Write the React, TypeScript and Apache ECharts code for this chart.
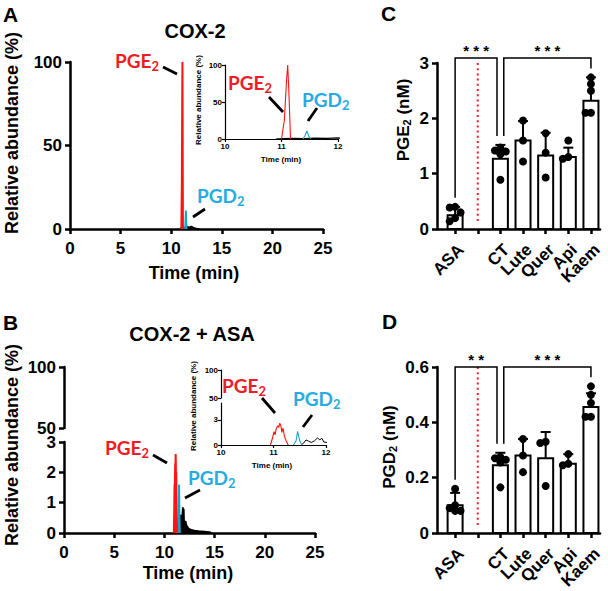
import { useEffect, useRef } from "react";
import * as echarts from "echarts";

const AXIS_FONT = "'Liberation Sans', Arial, Helvetica, sans-serif";
const TAG_FONT = "Lato, 'Open Sans', sans-serif";
const RED = "#ee1c25";
const CYAN = "#29abe2";
const RED_TRACE = "#ff1414";
const CYAN_TRACE = "#1ba3c6";

// Extracted-ion traces, [retention time (min), relative abundance (%)]
const cox2Pge2 = [[11.0, 0], [11.05, 25], [11.09, 80], [11.11, 100], [11.13, 65], [11.16, 0]];
const cox2Pgd2 = [[11.38, 0], [11.42, 5], [11.45, 11], [11.48, 4], [11.52, 0]];
const cox2Other = [[10.9, 0], [11.0, 0.6], [11.2, 0.9], [11.4, 0.5], [11.6, 1.2], [11.8, 0.8], [12.0, 1.4], [12.2, 0.6], [12.5, 0.2], [12.8, 0]];

const asaPge2 = [[10.94, 0], [10.98, 0.8], [11.01, 1.6], [11.03, 1.2], [11.05, 1.9], [11.08, 2.3], [11.1, 2.1], [11.12, 2.6], [11.14, 2.3], [11.16, 1.5], [11.18, 2.0], [11.21, 1.0], [11.24, 0.5], [11.28, 0]];
const asaPgd2 = [[11.38, 0], [11.43, 0.5], [11.46, 1.6], [11.5, 0.5], [11.54, 0]];
const asaOther = [[11.52, 0], [11.57, 0.2], [11.62, 0.6], [11.67, 0.45], [11.72, 0.3], [11.78, 0.5], [11.84, 0.85], [11.88, 0.6], [11.92, 0.8], [11.96, 0.35], [12.02, 0.3], [12.1, 0.4], [12.2, 0.25], [12.4, 0.15], [12.7, 0.1], [13.0, 0.08], [13.4, 0.06], [13.8, 0.05], [14.2, 0.04], [14.5, 0.03], [14.7, 0]];

// Quantification (nM); index 1 is the empty slot holding the divider
const groups = ["ASA", "", "CT", "Lute", "Quer", "Api", "Kaem"];
const pge2Mean = [0.25, null, 1.27, 1.6, 1.33, 1.3, 2.32];
const pge2Sd = [0.15, null, 0.25, 0.35, 0.41, 0.17, 0.42];
const pge2Points = [
  [0.4, 0.39, 0.3, 0.2, 0.14],
  [],
  [1.47, 1.42, 1.4, 1.35, 0.89],
  [1.96, 1.6, 1.22],
  [1.73, 1.38, 0.93],
  [1.6, 1.3, 1.27],
  [2.74, 2.62, 2.5, 2.1, 2.1],
];
const pgd2Mean = [0.1, null, 0.245, 0.28, 0.27, 0.25, 0.455];
const pgd2Sd = [0.045, null, 0.045, 0.06, 0.095, 0.035, 0.05];
const pgd2Points = [
  [0.16, 0.1, 0.09, 0.08, 0.08],
  [],
  [0.275, 0.27, 0.265, 0.255, 0.165],
  [0.34, 0.28, 0.22],
  [0.33, 0.325, 0.17],
  [0.285, 0.25, 0.245],
  [0.53, 0.5, 0.47, 0.42, 0.42],
];
// Significance brackets: compared groups and stars
const pge2Sig = [
  { a: 0, b: 2, stars: "* * *" },
  { a: 2, b: 6, stars: "* * *" },
];
const pgd2Sig = [
  { a: 0, b: 2, stars: "* *" },
  { a: 2, b: 6, stars: "* * *" },
];
const CONTROL = 2;

const black = "#000";

const mainAxisLine = { show: true, onZero: false, lineStyle: { color: black, width: 2.5 } };
const mainTick = { show: true, length: 5, lineStyle: { color: black, width: 2.5 } };
const mainLabel = { color: black, fontSize: 17, fontWeight: "bold", fontFamily: AXIS_FONT };
const insetAxisLine = { show: true, onZero: false, lineStyle: { color: black, width: 1.2 } };
const insetTick = { show: true, length: 3, lineStyle: { color: black, width: 1.2 } };
const insetLabel = { color: black, fontSize: 8, fontWeight: "bold", fontFamily: AXIS_FONT, margin: 3 };

function spreadDots(values: number[], yMax: number, plotH: number, unitPx: number) {
  const placed: number[][] = [];
  const offs = [0, -0.24, 0.24, -0.12, 0.12];
  return values.map((v) => {
    let best = 0;
    let bestD = -1;
    for (const o of offs) {
      let d = Infinity;
      for (const [po, pv] of placed) {
        d = Math.min(d, Math.hypot((o - po) * unitPx, ((v - pv) / yMax) * plotH));
      }
      if (d >= 6.5) {
        best = o;
        break;
      }
      if (d > bestD) {
        bestD = d;
        best = o;
      }
    }
    placed.push([best, v]);
    return best;
  });
}

function traceSeries(data: number[][], color: string, xi: number, yi: number, width: number, fill: boolean) {
  return {
    type: "line",
    xAxisIndex: xi,
    yAxisIndex: yi,
    data,
    showSymbol: false,
    symbol: "none",
    lineStyle: { color, width },
    areaStyle: fill ? { color, opacity: 1 } : undefined,
    silent: true,
  };
}

function quantSeries(idx: number, mean: (number | null)[], sd: (number | null)[], points: number[][], sig: any[], yMax: number, level: number) {
  const tops = mean.map((m, i) => Math.max(m == null ? 0 : m + (sd[i] || 0), ...(points[i].length ? points[i] : [0])));
  const barData = mean.map((m, i) => (m == null ? null : [i, m, sd[i]])).filter(Boolean);
  const dots: number[][] = [];
  points.forEach((vals, i) => {
    const offs = spreadDots(vals, yMax, 166, 22.6);
    vals.forEach((v, k) => dots.push([i + offs[k], v]));
  });
  const bracketData = sig.map((s) => [
    s.a + (s.a === CONTROL ? 0.15 : 0),
    s.b - (s.b === CONTROL ? 0.15 : 0),
    level,
    tops[s.a],
    tops[s.b],
  ]);
  return [
    {
      type: "custom",
      xAxisIndex: idx,
      yAxisIndex: idx,
      data: [[1]],
      silent: true,
      renderItem: (_p: any, api: any) => {
        const top = api.coord([api.value(0), yMax]);
        const bot = api.coord([api.value(0), 0]);
        return {
          type: "line",
          shape: { x1: top[0], y1: top[1], x2: bot[0], y2: bot[1] - 6 },
          style: { stroke: "#e5202a", lineWidth: 2, lineDash: [2, 3.2] },
        };
      },
    },
    {
      type: "custom",
      xAxisIndex: idx,
      yAxisIndex: idx,
      data: barData,
      silent: true,
      z: 3,
      renderItem: (_p: any, api: any) => {
        const x = api.value(0);
        const m = api.value(1);
        const s = api.value(2);
        const p0 = api.coord([x, 0]);
        const pm = api.coord([x, m]);
        const ps = api.coord([x, m + s]);
        return {
          type: "group",
          children: [
            { type: "line", shape: { x1: pm[0], y1: pm[1], x2: ps[0], y2: ps[1] }, style: { stroke: black, lineWidth: 2 } },
            { type: "line", shape: { x1: ps[0] - 5, y1: ps[1], x2: ps[0] + 5, y2: ps[1] }, style: { stroke: black, lineWidth: 2 } },
            { type: "rect", shape: { x: p0[0] - 7.5, y: pm[1], width: 15, height: p0[1] - pm[1] }, style: { fill: "#fff", stroke: black, lineWidth: 2 } },
          ],
        };
      },
    },
    {
      type: "scatter",
      xAxisIndex: idx,
      yAxisIndex: idx,
      data: dots,
      symbolSize: 8,
      itemStyle: { color: black, opacity: 1 },
      silent: true,
      z: 5,
    },
    {
      type: "custom",
      xAxisIndex: idx,
      yAxisIndex: idx,
      data: bracketData,
      silent: true,
      z: 6,
      renderItem: (p: any, api: any) => {
        const pa = api.coord([api.value(0), api.value(2)]);
        const pb = api.coord([api.value(1), api.value(2)]);
        const ya = api.coord([api.value(0), api.value(3)])[1] - 9;
        const yb = api.coord([api.value(1), api.value(4)])[1] - 9;
        return {
          type: "group",
          children: [
            {
              type: "polyline",
              shape: { points: [[pa[0], ya], [pa[0], pa[1]], [pb[0], pb[1]], [pb[0], yb]] },
              style: { stroke: black, lineWidth: 1.5, fill: null },
            },
            {
              type: "text",
              x: (pa[0] + pb[0]) / 2,
              y: pa[1] - 8,
              style: { text: sig[p.dataIndex].stars, fill: black, fontSize: 15, fontWeight: "bold", fontFamily: AXIS_FONT, align: "center", verticalAlign: "middle" },
            },
          ],
        };
      },
    },
  ];
}

function plainText(text: string, x: number, y: number, size: number, opts: any = {}) {
  return {
    type: "text",
    x,
    y,
    rotation: opts.rotation || 0,
    silent: true,
    style: {
      text,
      fill: opts.color || black,
      fontSize: size,
      fontWeight: "bold",
      fontFamily: opts.font || AXIS_FONT,
      align: opts.align || "center",
      verticalAlign: "middle",
    },
  };
}

function subText(base: string, rest: string, x: number, y: number, size: number, subSize: number, drop: number, color: string, font: string, opts: any = {}) {
  return {
    type: "text",
    x,
    y,
    rotation: opts.rotation || 0,
    silent: true,
    style: {
      text: `{m|${base}}{s|2}` + (rest ? `{m|${rest}}` : ""),
      align: opts.align || "left",
      verticalAlign: "middle",
      rich: {
        m: { fontSize: size, lineHeight: size + 2, fontWeight: "bold", fontFamily: font, fill: color },
        s: { fontSize: subSize, lineHeight: subSize, padding: [drop, 0, 0, 0], fontWeight: "bold", fontFamily: font, fill: color },
      },
    },
  };
}

function leader(x1: number, y1: number, x2: number, y2: number) {
  return { type: "line", silent: true, shape: { x1, y1, x2, y2 }, style: { stroke: black, lineWidth: 2.8 } };
}

function buildGraphic() {
  return [
    plainText("A", 3, 14, 21, { align: "left" }),
    plainText("B", 3, 322, 21, { align: "left" }),
    plainText("C", 381, 13, 21, { align: "left" }),
    plainText("D", 382, 321, 21, { align: "left" }),
    plainText("COX-2", 195, 31, 20),
    plainText("COX-2 + ASA", 192, 334, 20),
    plainText("Relative abundance (%)", 12, 133, 18, { rotation: Math.PI / 2 }),
    plainText("Relative abundance (%)", 12, 445, 18, { rotation: Math.PI / 2 }),
    plainText("Relative abundance (%)", 198, 100, 8, { rotation: Math.PI / 2 }),
    plainText("Relative abundance (%)", 193, 406, 8, { rotation: Math.PI / 2 }),
    plainText("Time (min)", 194, 273, 18),
    plainText("Time (min)", 188, 573, 18),
    plainText("Time (min)", 281, 159, 8),
    plainText("Time (min)", 272, 465, 8),
    subText("PGE", " (nM)", 403, 120, 17, 11, 7, black, AXIS_FONT, { rotation: Math.PI / 2, align: "center" }),
    subText("PGD", " (nM)", 389, 447, 17, 11, 7, black, AXIS_FONT, { rotation: Math.PI / 2, align: "center" }),
    // peak tags with leader lines
    subText("PGE", "", 115, 60, 19, 13, 12, RED, TAG_FONT),
    leader(163, 67, 177, 74),
    subText("PGD", "", 197, 195, 19, 13, 12, CYAN, TAG_FONT),
    leader(193, 217, 205, 209),
    subText("PGE", "", 228, 82, 19, 13, 12, RED, TAG_FONT),
    leader(269, 97, 283, 112),
    subText("PGD", "", 302, 99, 19, 13, 12, CYAN, TAG_FONT),
    leader(317, 108, 308, 121),
    subText("PGE", "", 105, 447, 19, 13, 12, RED, TAG_FONT),
    leader(153, 455, 167, 463),
    subText("PGD", "", 188, 477, 19, 13, 12, CYAN, TAG_FONT),
    leader(185, 498, 200, 490),
    subText("PGE", "", 222, 385, 19, 13, 12, RED, TAG_FONT),
    leader(262, 398, 275, 413),
    subText("PGD", "", 293, 398, 19, 13, 12, CYAN, TAG_FONT),
    leader(312, 415, 303, 427),
  ];
}

function buildOption() {
  const grids = [
    { left: 70, top: 62, width: 253, height: 167 },
    { left: 225, top: 65, width: 113, height: 74 },
    { left: 64, top: 367, width: 251, height: 61 },
    { left: 64, top: 442, width: 251, height: 91 },
    { left: 221, top: 370, width: 105, height: 28 },
    { left: 221, top: 403, width: 105, height: 42 },
    { left: 437, top: 63, width: 163, height: 166 },
    { left: 437, top: 367, width: 163, height: 166 },
  ];

  const tickIdx = groups.map((_g, i) => i);
  const groupAxis = (gi: number) => ({
    type: "value",
    gridIndex: gi,
    min: -0.8,
    max: 6.4,
    axisLine: mainAxisLine,
    axisTick: { ...mainTick, customValues: tickIdx },
    axisLabel: { show: false },
    splitLine: { show: false },
  });

  const xAxis = [
    { type: "value", gridIndex: 0, min: 0, max: 25, interval: 5, axisLine: mainAxisLine, axisTick: mainTick, axisLabel: { ...mainLabel, margin: 11 }, splitLine: { show: false } },
    { type: "value", gridIndex: 1, min: 10, max: 12, interval: 1, axisLine: insetAxisLine, axisTick: insetTick, axisLabel: insetLabel, splitLine: { show: false } },
    { type: "value", gridIndex: 2, min: 0, max: 25, show: false },
    { type: "value", gridIndex: 3, min: 0, max: 25, interval: 5, axisLine: mainAxisLine, axisTick: mainTick, axisLabel: { ...mainLabel, margin: 11 }, splitLine: { show: false } },
    { type: "value", gridIndex: 4, min: 10, max: 12, show: false },
    { type: "value", gridIndex: 5, min: 10, max: 12, interval: 1, axisLine: insetAxisLine, axisTick: insetTick, axisLabel: insetLabel, splitLine: { show: false } },
    groupAxis(6),
    groupAxis(7),
  ];

  const yAxis = [
    { type: "value", gridIndex: 0, min: 0, max: 100, interval: 50, axisLine: mainAxisLine, axisTick: mainTick, axisLabel: { ...mainLabel, margin: 8 }, splitLine: { show: false } },
    { type: "value", gridIndex: 1, min: 0, max: 100, interval: 50, axisLine: insetAxisLine, axisTick: insetTick, axisLabel: insetLabel, splitLine: { show: false } },
    { type: "value", gridIndex: 2, min: 50, max: 100, interval: 50, axisLine: mainAxisLine, axisTick: mainTick, axisLabel: { ...mainLabel, margin: 8 }, splitLine: { show: false } },
    { type: "value", gridIndex: 3, min: 0, max: 3, interval: 1, axisLine: mainAxisLine, axisTick: mainTick, axisLabel: { ...mainLabel, margin: 8 }, splitLine: { show: false } },
    { type: "value", gridIndex: 4, min: 50, max: 100, interval: 50, axisLine: insetAxisLine, axisTick: insetTick, axisLabel: insetLabel, splitLine: { show: false } },
    {
      type: "value", gridIndex: 5, min: 0, max: 5,
      axisLine: insetAxisLine,
      axisTick: { ...insetTick, customValues: [0, 3] },
      axisLabel: { ...insetLabel, customValues: [0, 3], formatter: (v: number) => (v === 0 || v === 3 ? String(v) : "") },
      splitLine: { show: false },
    },
    { type: "value", gridIndex: 6, min: 0, max: 3, interval: 1, axisLine: mainAxisLine, axisTick: mainTick, axisLabel: { ...mainLabel, margin: 8 }, splitLine: { show: false } },
    { type: "value", gridIndex: 7, min: 0, max: 0.6, interval: 0.2, axisLine: mainAxisLine, axisTick: mainTick, axisLabel: { ...mainLabel, margin: 8 }, splitLine: { show: false } },
  ];

  const series: any[] = [
    traceSeries(cox2Other, black, 0, 0, 2, true),
    traceSeries(cox2Pgd2, CYAN_TRACE, 0, 0, 2, true),
    traceSeries(cox2Pge2, RED_TRACE, 0, 0, 2, true),
    traceSeries(cox2Other, black, 1, 1, 1.2, false),
    traceSeries(cox2Pgd2, CYAN_TRACE, 1, 1, 1.1, false),
    traceSeries(cox2Pge2, RED_TRACE, 1, 1, 1.1, false),
    traceSeries(asaOther, black, 3, 3, 1.8, true),
    traceSeries(asaPgd2, CYAN_TRACE, 3, 3, 2, true),
    traceSeries(asaPge2, RED_TRACE, 3, 3, 2, true),
    traceSeries(asaOther, black, 5, 5, 1, false),
    traceSeries(asaPgd2, CYAN_TRACE, 5, 5, 1.1, false),
    traceSeries(asaPge2, RED_TRACE, 5, 5, 1.1, false),
    ...quantSeries(6, pge2Mean, pge2Sd, pge2Points, pge2Sig, 3, 3.09),
    ...quantSeries(7, pgd2Mean, pgd2Sd, pgd2Points, pgd2Sig, 0.6, 0.6),
  ];

  return {
    animation: false,
    backgroundColor: "#fff",
    grid: grids,
    xAxis,
    yAxis,
    series,
    graphic: buildGraphic(),
  };
}

// Slanted group names, placed at each group's tick on the C and D axes
function groupLabels(chart: any) {
  const out: any[] = [];
  [6, 7].forEach((gi) => {
    groups.forEach((g, i) => {
      if (!g) return;
      const pt = chart.convertToPixel({ gridIndex: gi }, [i, 0]);
      if (!pt) return;
      out.push({
        type: "text",
        x: pt[0] + 6,
        y: pt[1] + 18,
        rotation: Math.PI / 4,
        silent: true,
        style: {
          text: g,
          fill: black,
          fontSize: 17,
          fontWeight: "bold",
          fontFamily: AXIS_FONT,
          align: "right",
          verticalAlign: "middle",
        },
      });
    });
  });
  return out;
}

export default function App() {
  const ref = useRef<HTMLDivElement>(null);
  useEffect(() => {
    if (!ref.current) return;
    document.body.style.margin = "0";
    const chart = echarts.init(ref.current, undefined, { renderer: "svg" });
    chart.setOption(buildOption() as any);
    chart.setOption({ graphic: [...buildGraphic(), ...groupLabels(chart)] } as any);
    return () => chart.dispose();
  }, []);
  return <div ref={ref} style={{ position: "absolute", left: 0, top: 0, width: 608, height: 591 }} />;
}
